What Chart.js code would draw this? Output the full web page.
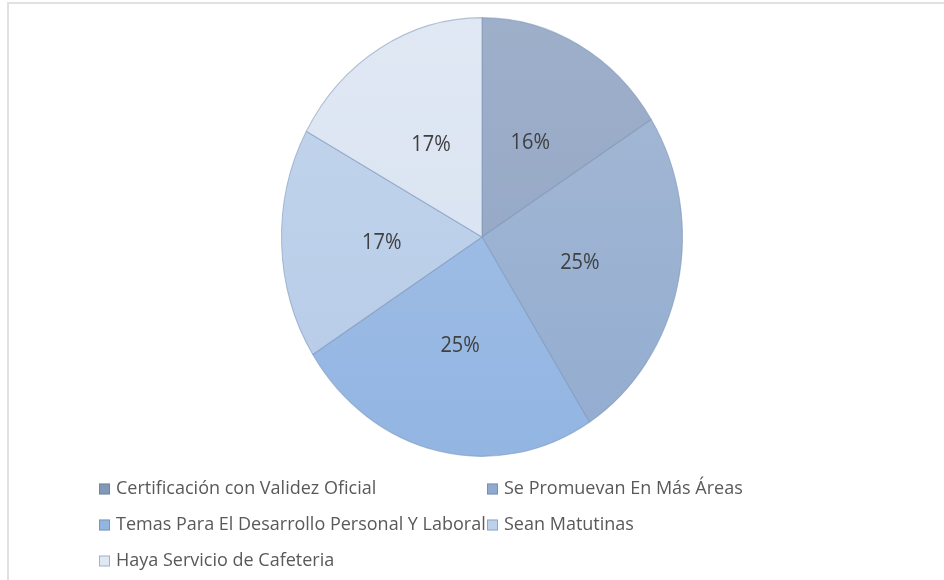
<!DOCTYPE html>
<html>
<head>
<meta charset="utf-8">
<script src="https://cdn.jsdelivr.net/npm/chart.js@4.4.1/dist/chart.umd.min.js"></script>
<style>
  html, body { margin: 0; padding: 0; background: #fff; overflow: hidden; }
  #frame { position: absolute; left: 7px; top: 2px; width: 960px; height: 600px;
           border-left: 2px solid #e1e1e1; border-top: 2px solid #e1e1e1; }
  #wrap { position: absolute; left: 0; top: 0; width: 944px; height: 580px; }
</style>
</head>
<body>
<div id="frame"></div>
<div id="wrap"><canvas id="pie" width="944" height="580"></canvas></div>
<script>
var categories = [
  'Certificación con Validez Oficial',
  'Se Promuevan En Más Áreas',
  'Temas Para El Desarrollo Personal Y Laboral',
  'Sean Matutinas',
  'Haya Servicio de Cafeteria'
];
var percents = [16, 25, 25, 17, 17];

var sliceTop = ['#9eafca', '#a6b9d4', '#a7c2e7', '#c3d5ec', '#e0e8f4'];
var sliceBottom = ['#8fa4c3', '#92acd0', '#92b5e2', '#b6cbe8', '#d6e0f0'];
var swatch = ['#8397b6', '#8fa9cf', '#93b5e2', '#bcd1ee', '#e0e8f4'];

// the pie is drawn as a circle and stretched vertically into an ellipse
var stretchY = 1.094;

function sliceFill(ctx) {
  var chart = ctx.chart, area = chart.chartArea;
  if (!area) return sliceTop[ctx.dataIndex];
  var g = chart.ctx.createLinearGradient(0, area.top, 0, area.bottom);
  g.addColorStop(0, sliceTop[ctx.dataIndex]);
  g.addColorStop(1, sliceBottom[ctx.dataIndex]);
  return g;
}

var stretchPlugin = {
  id: 'stretch',
  beforeDatasetsDraw: function(chart) {
    var a = chart.chartArea, c = chart.ctx;
    var cx = (a.left + a.right) / 2, cy = (a.top + a.bottom) / 2;
    c.save();
    c.translate(cx, cy);
    c.scale(1, stretchY);
    c.translate(-cx, -cy);
  },
  afterDatasetsDraw: function(chart) {
    var c = chart.ctx;
    var meta = chart.getDatasetMeta(0);
    c.font = '20px "Open Sans"';
    c.fillStyle = '#404040';
    c.textAlign = 'center';
    c.textBaseline = 'middle';
    meta.data.forEach(function(arc, i) {
      var mid = (arc.startAngle + arc.endAngle) / 2;
      var r = arc.outerRadius * 0.5;
      c.fillText(percents[i] + '%', arc.x + Math.cos(mid) * r, arc.y + Math.sin(mid) * r + 2);
    });
    c.restore();
  }
};

// two-column legend under the pie
var legendPlugin = {
  id: 'gridLegend',
  afterDraw: function(chart) {
    var c = chart.ctx;
    var cols = [99, 487];
    var rows = [489, 525, 561];
    c.save();
    c.font = '18px "Open Sans"';
    c.textBaseline = 'middle';
    c.textAlign = 'left';
    categories.forEach(function(label, i) {
      var x = cols[i % 2], y = rows[Math.floor(i / 2)];
      c.fillStyle = swatch[i];
      c.fillRect(x, y - 5.5, 11, 11);
      c.strokeStyle = 'rgba(90,110,140,0.45)';
      c.lineWidth = 1;
      c.strokeRect(x + 0.5, y - 5, 10, 10);
      c.fillStyle = '#595959';
      c.fillText(label, x + 17, y);
    });
    c.restore();
  }
};

new Chart(document.getElementById('pie'), {
  type: 'pie',
  data: {
    labels: categories,
    datasets: [{
      data: percents,
      backgroundColor: sliceFill,
      borderColor: 'rgba(120,145,180,0.55)',
      borderWidth: 1,
      clip: false
    }]
  },
  options: {
    responsive: false,
    animation: false,
    layout: { padding: { top: 36, bottom: 142, left: 281, right: 261 } },
    plugins: {
      legend: { display: false },
      tooltip: { enabled: false }
    }
  },
  plugins: [stretchPlugin, legendPlugin]
});
</script>
</body>
</html>
